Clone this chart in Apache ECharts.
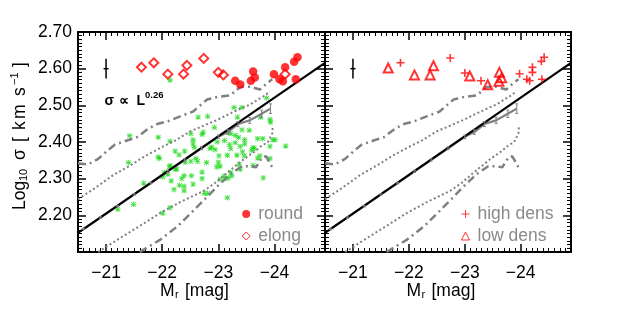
<!DOCTYPE html>
<html><head><meta charset="utf-8">
<script src="https://cdn.jsdelivr.net/npm/echarts@6.0.0/dist/echarts.min.js"></script>
<style>html,body{margin:0;padding:0;background:#fff}#c{width:629px;height:315px}</style>
</head><body><div id="c"></div>
<script>
// ---------- axis ranges & ticks ----------
const xRange = [-24.9, -20.5];          // M_r (drawn reversed)
const yRange = [2.10, 2.70];            // log10 sigma
const xTickLabels = [-24, -23, -22, -21];
const yTickStep = 0.1;

// ---------- data (M_r, log10 sigma) ----------
const allGalaxies = [
 [-21.42,2.417],[-21.93,2.413],[-21.40,2.344],[-21.93,2.359],[-21.95,2.355],[-22.14,2.402],[-22.23,2.375],
 [-22.30,2.365],[-22.40,2.375],[-22.14,2.336],[-22.23,2.326],[-22.51,2.423],[-22.55,2.406],[-22.55,2.395],
 [-22.57,2.385],[-22.60,2.355],[-22.63,2.347],[-22.64,2.468],[-22.71,2.421],[-22.73,2.427],[-22.41,2.345],
 [-22.51,2.347],[-21.67,2.288],[-21.21,2.217],[-21.49,2.230],[-22.01,2.206],[-22.14,2.221],[-22.04,2.317],
 [-22.01,2.305],[-22.10,2.312],[-22.13,2.332],[-22.16,2.294],[-22.21,2.270],[-22.31,2.282],[-22.35,2.300],
 [-22.39,2.308],[-22.39,2.279],[-22.39,2.267],[-22.52,2.308],[-22.71,2.318],[-22.71,2.300],[-22.26,2.326],
 [-22.55,2.285],[-22.14,2.569],
 [-23.86,2.520],[-23.28,2.494],[-23.42,2.494],[-22.81,2.470],[-23.34,2.468],[-23.75,2.468],[-23.92,2.461],
 [-23.93,2.454],[-22.93,2.440],[-23.18,2.427],[-23.22,2.423],[-23.30,2.418],[-23.36,2.413],[-23.42,2.433],
 [-23.55,2.432],[-22.98,2.400],[-23.11,2.404],[-23.20,2.393],[-23.30,2.398],[-23.47,2.406],[-23.47,2.395],
 [-23.70,2.409],[-23.79,2.409],[-23.97,2.406],[-24.01,2.406],[-22.85,2.382],[-22.88,2.386],[-23.22,2.382],
 [-23.39,2.388],[-23.43,2.373],[-23.62,2.385],[-23.59,2.377],[-23.64,2.382],[-23.92,2.388],[-24.20,2.389],
 [-23.01,2.362],[-23.16,2.364],[-23.33,2.364],[-23.46,2.362],[-23.70,2.356],[-23.74,2.362],[-23.92,2.355],
 [-22.79,2.344],[-22.97,2.332],[-23.03,2.334],[-23.37,2.339],[-23.22,2.317],[-23.24,2.308],[-23.39,2.326],
 [-23.62,2.336],[-23.03,2.298],[-23.13,2.300],[-23.18,2.302],[-22.75,2.260],[-22.81,2.260],[-23.16,2.248],
 [-23.80,2.302],[-22.94,2.379],[-23.00,2.345],[-23.10,2.307]
];
const roundPts = [[-23.30,2.567],[-23.39,2.557],[-23.58,2.567],[-23.62,2.592],[-23.65,2.576],[-23.99,2.585],
 [-24.09,2.571],[-24.15,2.566],[-24.19,2.604],[-24.35,2.619],[-24.41,2.631],[-24.38,2.571]];
const elongPts = [[-21.63,2.604],[-21.85,2.616],[-22.10,2.585],[-22.38,2.585],[-22.44,2.609],[-22.74,2.628],
 [-23.00,2.590],[-23.09,2.583],[-24.19,2.585]];
const highDensPts = [[-21.85,2.616],[-22.74,2.629],[-23.00,2.588],[-23.29,2.567],[-23.98,2.586],[-24.11,2.571],
 [-24.16,2.567],[-24.21,2.604],[-24.21,2.590],[-24.37,2.620],[-24.42,2.631],[-24.38,2.571]];
const lowDensPts = [[-21.63,2.602],[-22.10,2.583],[-22.38,2.583],[-22.44,2.608],[-23.09,2.580],[-23.41,2.556],
 [-23.62,2.590],[-23.66,2.575],[-23.61,2.566]];

// scatter envelopes
const upperDashMr = [-20.50,-20.68,-20.86,-21.02,-21.16,-21.37,-21.55,-21.75,-21.91,-22.09,-22.32,-22.55,-22.80,-22.99,-23.21,-23.39,-23.56,-23.74,-23.88,-23.96];
const upperDashS  = [2.342,2.339,2.354,2.376,2.393,2.404,2.413,2.436,2.449,2.456,2.470,2.483,2.516,2.523,2.527,2.550,2.551,2.543,2.562,2.571];
const upperDotMr  = [-20.50,-20.80,-21.12,-21.43,-21.69,-21.98,-22.23,-22.50,-22.67,-22.99,-23.28,-23.56,-23.83,-23.92];
const upperDotS   = [2.244,2.274,2.309,2.336,2.361,2.385,2.404,2.429,2.440,2.461,2.483,2.502,2.527,2.538];
const lowerDotMr  = [-20.86,-21.25,-21.60,-21.96,-22.32,-22.73,-22.94,-23.21,-23.47,-23.65,-23.78,-23.88,-23.96,-23.97];
const lowerDotS   = [2.100,2.138,2.171,2.206,2.236,2.266,2.288,2.323,2.355,2.374,2.391,2.399,2.423,2.445];
const lowerDashMr = [-21.60,-21.96,-22.28,-22.53,-22.76,-22.98,-23.21,-23.42,-23.56,-23.67,-23.78,-23.85,-23.96];
const lowerDashS  = [2.100,2.133,2.171,2.209,2.244,2.279,2.312,2.334,2.334,2.331,2.358,2.361,2.331];
// running median with errors
const medianMr  = [-20.6,-20.9,-21.2,-21.5,-21.8,-22.1,-22.4,-22.7,-23.0,-23.17,-23.35,-23.56,-23.77,-23.93];
const medianS   = [2.163,2.194,2.225,2.257,2.288,2.320,2.351,2.383,2.414,2.427,2.449,2.459,2.477,2.491];
const medianErr = [0.002,0.002,0.002,0.002,0.002,0.003,0.003,0.004,0.005,0.006,0.007,0.008,0.010,0.013];
// sigma ∝ L^0.26 relation (end points)
const fitMr = [-20.5, -24.9];
const fitS  = [2.152, 2.616];
// typical error bar
const typErr = [[-21.0, 2.600, 0.027]];

// ---------- helpers ----------
const FONT = '"Liberation Sans", Arial, sans-serif';
const GRAY = '#808080';
const zip = (a, b) => a.map((v, i) => [v, b[i]]);
const zip3 = (a, b, c) => a.map((v, i) => [v, b[i], c[i]]);
const xMinor = [];
for (let k = Math.round(xRange[0] * 10) + 1; k < Math.round(xRange[1] * 10); k++) { if (k % 10 !== 0) xMinor.push(k / 10); }

function xAxes(p) {
  const base = {type:'value', gridIndex:p, min:xRange[0], max:xRange[1], inverse:true, splitLine:{show:false}};
  const line = {show:true, onZero:false, lineStyle:{color:'#000', width:2}};
  const major = {show:true, inside:true, length:8, customValues:xTickLabels, lineStyle:{color:'#000', width:1.5}};
  const minor = {show:true, inside:true, length:4, customValues:xMinor, lineStyle:{color:'#000', width:1}};
  return [
    Object.assign({}, base, {position:'bottom', axisLine:line, axisTick:major,
      axisLabel:{show:true, customValues:xTickLabels, formatter:v => String(v).replace('-', '\u2212'),
        color:'#000', fontSize:17.5, fontFamily:FONT, margin:12}}),
    Object.assign({}, base, {position:'bottom', axisLine:{show:false, onZero:false}, axisTick:minor, axisLabel:{show:false}}),
    Object.assign({}, base, {position:'top', axisLine:line, axisTick:major, axisLabel:{show:false}}),
    Object.assign({}, base, {position:'top', axisLine:{show:false, onZero:false}, axisTick:minor, axisLabel:{show:false}})
  ];
}
function yAxes(p) {
  const base = {type:'value', gridIndex:p, min:yRange[0], max:yRange[1], interval:yTickStep, splitLine:{show:false},
    axisLine:{show:true, onZero:false, lineStyle:{color:'#000', width:2}},
    axisTick:{show:true, inside:true, length:8, lineStyle:{color:'#000', width:1.5}},
    minorTick:{show:true, splitNumber:10, length:4, lineStyle:{color:'#000', width:1}}};
  return [
    Object.assign({}, base, {position:'left', axisLabel:{show:p === 0, showMinLabel:false, formatter:v => v.toFixed(2),
      color:'#000', fontSize:17.5, fontFamily:FONT, margin:6}}),
    Object.assign({}, base, {position:'right', axisLabel:{show:false}})
  ];
}
function errRender(color, width, mode) {
  return function (params, api) {
    const x = api.value(0), y = api.value(1), e = api.value(2);
    const a = api.coord([x, y - e]), b = api.coord([x, y + e]), c = api.coord([x, y]);
    const st = {stroke:color, lineWidth:width};
    const ch = [{type:'line', shape:{x1:a[0], y1:a[1], x2:b[0], y2:b[1]}, style:st}];
    if (mode === 'center') ch.push({type:'line', shape:{x1:c[0] - 2.5, y1:c[1], x2:c[0] + 2.5, y2:c[1]}, style:st});
    else {
      ch.push({type:'line', shape:{x1:a[0] - 1.5, y1:a[1], x2:a[0] + 1.5, y2:a[1]}, style:st});
      ch.push({type:'line', shape:{x1:b[0] - 1.5, y1:b[1], x2:b[0] + 1.5, y2:b[1]}, style:st});
    }
    return {type:'group', children:ch};
  };
}
function panelSeries(p) {
  const xi = p * 4, yi = p * 2;
  const ln = (name, data, style) => ({name, type:'line', xAxisIndex:xi, yAxisIndex:yi, data, showSymbol:false,
    symbol:'none', lineStyle:style, silent:true, z:2});
  return [
    ln('updash' + p, zip(upperDashMr, upperDashS), {color:GRAY, width:2.5, type:[8, 4, 2, 4]}),
    ln('lowdash' + p, zip(lowerDashMr, lowerDashS), {color:GRAY, width:2.5, type:[8, 4, 2, 4]}),
    ln('updot' + p, zip(upperDotMr, upperDotS), {color:GRAY, width:2, type:[2, 2.5]}),
    ln('lowdot' + p, zip(lowerDotMr, lowerDotS), {color:GRAY, width:2, type:[2, 2.5]}),
    ln('median' + p, zip(medianMr, medianS), {color:GRAY, width:2.2}),
    {name:'medianErr' + p, type:'custom', xAxisIndex:xi, yAxisIndex:yi, data:zip3(medianMr, medianS, medianErr),
      encode:{x:0, y:1}, renderItem:errRender(GRAY, 1, 'caps'), silent:true, z:3},
    ln('fit' + p, zip(fitMr, fitS), {color:'#000', width:2.2}),
    {name:'typErr' + p, type:'custom', xAxisIndex:xi, yAxisIndex:yi, data:typErr, encode:{x:0, y:1},
      renderItem:errRender('#000', 1.5, 'center'), silent:true, z:3}
  ];
}

const PLUS = 'path://M4,0H6V4H10V6H6V10H4V6H0V4H4Z';
const PLUS_THIN = 'path://M4.4,0H5.6V4.4H10V5.6H5.6V10H4.4V5.6H0V4.4H4.4Z';
const STAR = 'path://M4.2,0H5.8V4.2H10V5.8H5.8V10H4.2V5.8H0V4.2H4.2Z M1.4,0.3L5,3.9L8.6,0.3L9.7,1.4L6.1,5L9.7,8.6L8.6,9.7L5,6.1L1.4,9.7L0.3,8.6L3.9,5L0.3,1.4Z';

const series = [
  {name:'all', type:'scatter', xAxisIndex:0, yAxisIndex:0, data:allGalaxies, symbol:STAR, symbolSize:5.5,
    itemStyle:{color:'#19d819'}, z:1, silent:true},
  ...panelSeries(0), ...panelSeries(1),
  {name:'round', type:'scatter', xAxisIndex:0, yAxisIndex:0, data:roundPts, symbol:'circle', symbolSize:8.5,
    itemStyle:{color:'#ff0000'}, z:5, silent:true},
  {name:'elong', type:'scatter', xAxisIndex:0, yAxisIndex:0, data:elongPts, symbol:'diamond', symbolSize:9,
    itemStyle:{color:'rgba(255,255,255,0)', borderColor:'#ff0000', borderWidth:2}, z:5, silent:true},
  {name:'high dens', type:'scatter', xAxisIndex:4, yAxisIndex:2, data:highDensPts, symbol:PLUS, symbolSize:8,
    itemStyle:{color:'#ff0000'}, z:5, silent:true},
  {name:'low dens', type:'scatter', xAxisIndex:4, yAxisIndex:2, data:lowDensPts, symbol:'triangle', symbolSize:9,
    itemStyle:{color:'rgba(255,255,255,0)', borderColor:'#ff0000', borderWidth:2}, z:5, silent:true}
];

const legendText = {color:'#8a8a8a', fontSize:17.5, fontFamily:FONT, lineHeight:14, padding:[0, 0, 0, 3]};
const txt = (x, y, text, size, extra) => Object.assign({type:'text', x, y,
  style:{text, fill:'#000', font:size + 'px ' + FONT, textAlign:'left', textVerticalAlign:'middle'}}, extra || {});
const btxt = (x, y, text, size) => ({type:'text', x, y,
  style:{text, fill:'#000', font:'bold ' + size + 'px ' + FONT, textAlign:'left', textVerticalAlign:'middle'}});

function xTitle(x0) {
  return [txt(x0, 291, 'M', 17.5), txt(x0 + 15, 295, 'r', 11), txt(x0 + 25, 291, '[mag]', 17.5)];
}
const yTitle = {type:'group', x:20, y:210, rotation:Math.PI / 2, children:[
  txt(0, 0, 'Log', 17.5), txt(29, 4, '10', 11), txt(50, 0, 'σ', 17.5),
  txt(68, 0, '[', 17.5), txt(80, 0, 'k', 17.5), txt(91, 0, 'm', 17.5),
  txt(114, 0, 's', 17.5), txt(125, -5, '\u22121', 11), txt(143, 0, ']', 17.5)
]};

const legendBase = {orient:'vertical', padding:0, itemWidth:8, itemHeight:8, itemGap:4, selectedMode:false,
  top:205, textStyle:legendText};
const option = {
  animation:false,
  backgroundColor:'#fff',
  grid:[{left:78, top:32, width:247, height:220}, {left:325, top:32, width:246, height:220}],
  xAxis:[...xAxes(0), ...xAxes(1)],
  yAxis:[...yAxes(0), ...yAxes(1)],
  legend:[
    Object.assign({}, legendBase, {left:241.7,
      data:[{name:'round'}, {name:'elong', itemStyle:{borderWidth:1}}]}),
    Object.assign({}, legendBase, {left:461,
      data:[{name:'high dens', icon:PLUS_THIN}, {name:'low dens', itemStyle:{borderWidth:1}}]})
  ],
  graphic:[
    ...xTitle(160), ...xTitle(406.5), yTitle,
    btxt(104.5, 101, 'σ', 14), btxt(118.5, 101, '∝', 14), btxt(136.5, 101, 'L', 14), btxt(145, 95, '0.26', 9.5)
  ],
  series
};
const chart = echarts.init(document.getElementById('c'), null, {renderer:'canvas'});
chart.setOption(option);
</script></body></html>
